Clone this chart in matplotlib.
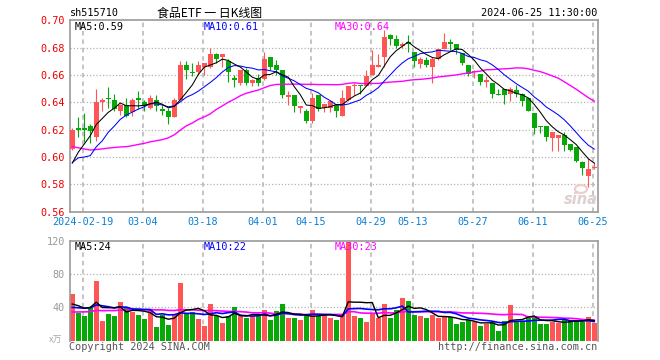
import numpy as np
import pandas as pd
import matplotlib
matplotlib.use('Agg')
import matplotlib.pyplot as plt
from matplotlib.patches import Ellipse

# ---- data (食品ETF sh515710, daily) ----
opens = [0.606, 0.621, 0.621, 0.623, 0.615, 0.640, 0.643, 0.642, 0.634, 0.638,
         0.633, 0.643, 0.640, 0.636, 0.642, 0.635, 0.634, 0.629, 0.642, 0.667,
         0.662, 0.662, 0.666, 0.666, 0.675, 0.673, 0.670, 0.658, 0.654, 0.664,
         0.654, 0.658, 0.657, 0.673, 0.667, 0.664, 0.644, 0.645, 0.636, 0.634,
         0.626, 0.645, 0.636, 0.636, 0.638, 0.630, 0.642, 0.652, 0.653, 0.652,
         0.660, 0.666, 0.673, 0.689, 0.686, 0.681, 0.684, 0.677, 0.668, 0.671,
         0.666, 0.672, 0.679, 0.684, 0.683, 0.676, 0.667, 0.662, 0.661, 0.655,
         0.654, 0.646, 0.650, 0.646, 0.649, 0.646, 0.643, 0.632, 0.6225, 0.623,
         0.6137, 0.6137, 0.616, 0.6095, 0.6076, 0.5966, 0.5863, 0.592]
highs = [0.621, 0.629, 0.632, 0.624, 0.650, 0.643, 0.651, 0.646, 0.639, 0.643,
         0.643, 0.648, 0.642, 0.645, 0.645, 0.638, 0.636, 0.643, 0.670, 0.670,
         0.669, 0.670, 0.669, 0.680, 0.676, 0.675, 0.672, 0.660, 0.664, 0.665,
         0.657, 0.661, 0.677, 0.673, 0.671, 0.664, 0.648, 0.645, 0.637, 0.635,
         0.647, 0.645, 0.639, 0.642, 0.638, 0.649, 0.652, 0.654, 0.653, 0.664,
         0.678, 0.675, 0.693, 0.690, 0.689, 0.684, 0.689, 0.677, 0.673, 0.673,
         0.673, 0.679, 0.691, 0.686, 0.683, 0.676, 0.667, 0.664, 0.661, 0.659,
         0.654, 0.650, 0.650, 0.651, 0.653, 0.647, 0.643, 0.632, 0.6225, 0.623,
         0.6185, 0.616, 0.618, 0.6095, 0.6076, 0.597, 0.599, 0.5966]
lows = [0.605, 0.615, 0.611, 0.610, 0.612, 0.634, 0.636, 0.634, 0.631, 0.629,
        0.630, 0.635, 0.634, 0.635, 0.634, 0.631, 0.624, 0.629, 0.642, 0.657,
        0.659, 0.660, 0.660, 0.665, 0.669, 0.666, 0.655, 0.651, 0.653, 0.653,
        0.652, 0.652, 0.656, 0.664, 0.660, 0.643, 0.638, 0.633, 0.632, 0.625,
        0.625, 0.634, 0.633, 0.633, 0.629, 0.630, 0.641, 0.645, 0.646, 0.652,
        0.660, 0.666, 0.666, 0.682, 0.680, 0.680, 0.677, 0.666, 0.665, 0.666,
        0.654, 0.671, 0.679, 0.678, 0.675, 0.667, 0.659, 0.658, 0.653, 0.651,
        0.643, 0.645, 0.639, 0.641, 0.644, 0.637, 0.634, 0.617, 0.6175, 0.612,
        0.6046, 0.6046, 0.6046, 0.6046, 0.596, 0.587, 0.578, 0.591]
closes = [0.620, 0.620, 0.620, 0.619, 0.640, 0.642, 0.6425, 0.635, 0.638, 0.630,
          0.642, 0.642, 0.637, 0.643, 0.637, 0.634, 0.629, 0.642, 0.667, 0.664,
          0.6615, 0.667, 0.669, 0.675, 0.672, 0.675, 0.662, 0.656, 0.664, 0.654,
          0.656, 0.654, 0.672, 0.666, 0.664, 0.645, 0.645, 0.637, 0.637, 0.626,
          0.643, 0.635, 0.639, 0.641, 0.634, 0.643, 0.652, 0.653, 0.652, 0.659,
          0.667, 0.667, 0.688, 0.686, 0.681, 0.683, 0.683, 0.670, 0.672, 0.667,
          0.672, 0.679, 0.684, 0.683, 0.678, 0.669, 0.661, 0.663, 0.655, 0.656,
          0.646, 0.6455, 0.645, 0.650, 0.646, 0.641, 0.634, 0.621, 0.622, 0.615,
          0.6185, 0.616, 0.609, 0.605, 0.597, 0.592, 0.591, 0.5925]
# closes before the window, estimated so the MA lines start where the chart shows
prev_close = [0.648, 0.645, 0.642, 0.630, 0.628, 0.625, 0.622, 0.626, 0.623, 0.621,
              0.615, 0.612, 0.610, 0.613, 0.610, 0.590, 0.575, 0.565, 0.570, 0.600,
              0.586, 0.614, 0.609, 0.575, 0.5985, 0.580, 0.590, 0.5885, 0.599]

# volume in 万
volumes = [56, 33, 30, 40, 72, 24, 32, 30, 46, 40,
           34, 31, 26, 37, 16, 31, 19, 32, 69, 33,
           34, 26, 18, 44, 30, 21, 30, 40, 30, 27,
           30, 30, 37, 25, 36, 44, 27, 27, 25, 30,
           37, 30, 32, 27, 25, 31, 118, 30, 27, 22,
           32, 27, 44, 27, 37, 51, 48, 31, 30, 27,
           31, 27, 30, 28, 20, 22, 25, 22, 18, 20,
           22, 12, 24, 43, 24, 24, 27, 30, 20, 20,
           23, 21, 26, 24, 24, 23, 29, 21]
prev_volume = [30, 28, 31, 27, 33, 29, 30, 28, 32, 30, 27, 31, 29, 30, 29,
               38, 36, 40, 37, 37, 38, 35, 36, 37, 34, 43, 45, 35, 41]

tick_idx = [2, 12, 22, 32, 40, 50, 57, 67, 77, 87]
tick_labels = ['2024-02-19', '03-04', '03-18', '04-01', '04-15',
               '04-29', '05-13', '05-27', '06-11', '06-25']
price_ticks = [0.56, 0.58, 0.60, 0.62, 0.64, 0.66, 0.68, 0.70]
volume_ticks = [40, 80, 120]

RED = '#ff5555'
GREEN = '#08a808'
GRID = '#b4b4b4'
FRAME = '#9a9a9a'
MONO = 'DejaVu Sans Mono'
CJK = ['Noto Sans CJK SC', 'DejaVu Sans']

W, H = 660, 360


def box(x0, y0, x1, y1):
    return [x0 / W, 1 - y1 / H, (x1 - x0) / W, (y1 - y0) / H]


def ftext(x, y, s, **kw):
    kw.setdefault('family', MONO)
    kw.setdefault('fontsize', 7.3)
    kw.setdefault('va', 'center')
    fig.text(x / W, 1 - y / H, s, **kw)


def style_axes(a):
    for sp in a.spines.values():
        sp.set_color(FRAME)
        sp.set_linewidth(1.2)
    a.tick_params(length=0)
    for t in tick_idx:
        a.axvline(t - 0.27, color=GRID, lw=1.1, ls=(0, (3, 2.5)), zorder=0)


o = np.array(opens)
h = np.array(highs)
l = np.array(lows)
c = np.array(closes)
v = np.array(volumes)
x = np.arange(len(c))
cols = np.where(c > o, RED, GREEN)

cs = pd.Series(prev_close + closes)
vs = pd.Series(prev_volume + volumes)
n_p, n_v = len(prev_close), len(prev_volume)
ma = {k: cs.rolling(k).mean().values[n_p:] for k in (5, 10, 30)}
vma = {k: vs.rolling(k).mean().values[n_v:] for k in (5, 10, 30)}

fig = plt.figure(figsize=(6.6, 3.6), dpi=100)
fig.patch.set_facecolor('white')

# sina watermark under the price panel's lower right corner
fig.add_artist(Ellipse((581 / W, 1 - 189 / H), 12 / W, 8 / H, fill=False,
                       ec='#f0cccc', lw=1.6))
ftext(581, 200, 'sina', family='DejaVu Sans', fontsize=10.5, style='italic',
      weight='bold', color='#dcd0d0', ha='center')

# ---- price panel ----
ax = fig.add_axes(box(70.3, 20.3, 597.7, 211.7))
ax.patch.set_alpha(0)
style_axes(ax)
for p in price_ticks[1:-1]:
    ax.axhline(p, color=GRID, lw=0.9, ls=(0, (1, 1.6)), zorder=0)
ax.vlines(x, l, h, colors=cols, lw=0.8, zorder=2)
body = np.maximum(np.abs(c - o), 0.0008)
ax.bar(x, body, bottom=np.minimum(o, c), width=0.8, color=cols, lw=0, zorder=3)
ax.plot(x, ma[30], color='#ff00ff', lw=1.0, zorder=4)
ax.plot(x, ma[10], color='#0000ff', lw=0.75, zorder=4)
ax.plot(x, ma[5], color='black', lw=0.75, zorder=4)
ax.set_xlim(-0.33, 87.57)
ax.set_ylim(0.56, 0.70)
ax.set_yticks(price_ticks)
ax.set_yticklabels(['%.2f' % p for p in price_ticks], color='#ee0000',
                   family=MONO, fontsize=7.3)
ax.set_xticks([t - 0.27 for t in tick_idx])
ax.set_xticklabels(tick_labels, color='#0a7fd6', family=MONO, fontsize=7.3)
ax.tick_params(axis='y', pad=4)
ax.tick_params(axis='x', pad=4)

# ---- volume panel ----
axv = fig.add_axes(box(70.3, 240.7, 597.7, 340.7))
style_axes(axv)
axv.spines['bottom'].set_visible(False)
for p in volume_ticks[:-1]:
    axv.axhline(p, color=GRID, lw=0.9, ls=(0, (1, 1.6)), zorder=0)
axv.bar(x, v, width=0.8, color=cols, lw=0, zorder=2)
axv.plot(x, vma[30], color='#ff00ff', lw=1.2, zorder=3)
axv.plot(x, vma[10], color='#0000ff', lw=1.2, zorder=3)
axv.plot(x, vma[5], color='black', lw=1.0, zorder=3)
axv.set_xlim(-0.33, 87.57)
axv.set_ylim(0, 120)
axv.set_xticks([])
axv.set_yticks(volume_ticks)
axv.set_yticklabels([str(t) for t in volume_ticks], color='#999999',
                    family=MONO, fontsize=7.3)
axv.tick_params(axis='y', pad=4)

# ---- header / legend texts ----
ftext(70, 13, 'sh515710')
ftext(209.5, 13, '食品ETF 一 日K线图', family=CJK, fontsize=8.6, ha='center')
ftext(597, 13, '2024-06-25 11:30:00', ha='right')
ftext(75, 26.5, 'MA5:0.59', color='black')
ftext(204, 26.5, 'MA10:0.61', color='#0000ff')
ftext(334.5, 26.5, 'MA30:0.64', color='#ff00ff')
ftext(75, 246.5, 'MA5:24', color='black')
ftext(204, 246.5, 'MA10:22', color='#0000ff')
ftext(334.5, 246.5, 'MA30:23', color='#ff00ff')
ftext(56, 340, 'x万', family=CJK, fontsize=6.5, color='#aaaaaa', ha='center')
ftext(69, 346.5, 'Copyright 2024 SINA.COM', color='#555555')
ftext(597, 346.5, 'http://finance.sina.com.cn', color='#555555', ha='right')

fig.savefig('out.png', dpi=100, facecolor='white')
